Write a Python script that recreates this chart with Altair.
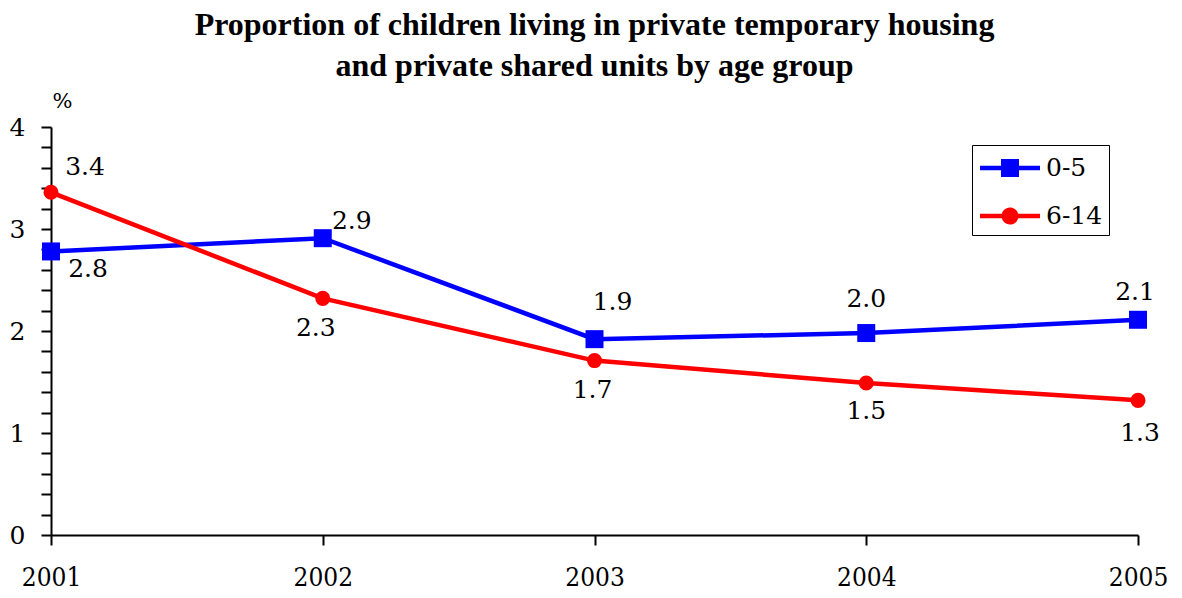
import altair as alt
import pandas as pd

years = [2001, 2002, 2003, 2004, 2005]
series = ["0-5", "6-14"]
age_0_5 = [2.78, 2.91, 1.92, 1.98, 2.11]
age_6_14 = [3.36, 2.32, 1.71, 1.49, 1.32]
y_ticks = [i / 5 for i in range(21)]

df = pd.DataFrame({
    "year": years * 2,
    "series": [series[0]] * 5 + [series[1]] * 5,
    "value": age_0_5 + age_6_14,
})

TITLE_FONT = "Times New Roman"
FONT = "DejaVu Serif"
colors = ["#0000FF", "#FF0000"]

# legend symbols: line segment + marker (custom paths)
leg_square = "M-1.765,-0.132H1.765V0.132H-1.765Z M-0.53,-0.53H0.53V0.53H-0.53Z"
leg_circle = ("M-1.765,-0.132H1.765V0.132H-1.765Z "
              "M0.5,0A0.5,0.5 0 1,1 -0.5,0A0.5,0.5 0 1,1 0.5,0Z")

x_enc = alt.X("year:Q", scale=alt.Scale(domain=[2001, 2005], nice=False),
              axis=alt.Axis(values=years, format="d", title=None, grid=False,
                            labelFontSize=26, labelFont="DejaVu Serif Condensed",
                            labelColor="black",
                            labelPadding=19, tickSize=10, tickWidth=2, tickColor="black",
                            domainColor="black", domainWidth=2, labelFlush=False))
y_enc = alt.Y("value:Q", scale=alt.Scale(domain=[0, 4], nice=False),
              axis=alt.Axis(values=y_ticks, grid=False, title="%", labelOverlap=False,
                            labelExpr="datum.value % 1 == 0 ? format(datum.value, 'd') : ''",
                            labelFontSize=25, labelFont=FONT, labelColor="black",
                            labelPadding=16, tickSize=10, tickWidth=2, tickColor="black",
                            domainColor="black", domainWidth=2,
                            titleAngle=0, titleFont=FONT, titleFontSize=21,
                            titleFontWeight="normal", titleX=11, titleY=-20,
                            titleAlign="center", titleBaseline="alphabetic"))
color_enc = alt.Color("series:N", scale=alt.Scale(domain=series, range=colors), legend=None)

base = alt.Chart(df).encode(x=x_enc, y=y_enc, color=color_enc)

lines = base.mark_line(strokeWidth=4.5)
squares = base.mark_point(shape="square", filled=True, size=324, opacity=1).transform_filter(
    alt.datum.series == series[0])
circles = base.mark_point(shape="circle", filled=True, size=227, opacity=1).transform_filter(
    alt.datum.series == series[1])

legend_def = alt.Legend(title=None, orient="none", legendX=921, legendY=18,
                        labelFont=FONT, labelFontSize=25, labelColor="black",
                        symbolSize=1156, symbolOffset=15, labelOffset=19,
                        rowPadding=18, padding=6, strokeColor="black",
                        fillColor="white", symbolStrokeWidth=0, symbolOpacity=1)
legend_layer = base.mark_point(filled=True, opacity=1, size=1156).encode(
    shape=alt.Shape("series:N", scale=alt.Scale(domain=series, range=[leg_square, leg_circle]),
                    legend=legend_def),
    color=alt.Color("series:N", scale=alt.Scale(domain=series, range=colors), legend=legend_def),
).transform_filter("false")

# label offsets (dx, dy) per point, as placed in the original
offsets = {
    ("0-5", 2001): (37, 18), ("0-5", 2002): (29, -17), ("0-5", 2003): (18, -37),
    ("0-5", 2004): (0, -34), ("0-5", 2005): (-3, -28),
    ("6-14", 2001): (34, -25), ("6-14", 2002): (-7, 30), ("6-14", 2003): (-2, 29),
    ("6-14", 2004): (0, 28), ("6-14", 2005): (2, 33),
}
labels = []
for (s, yr), (dx, dy) in offsets.items():
    labels.append(
        base.mark_text(font=FONT, fontSize=25, color="black", dx=dx, dy=dy,
                       align="center", baseline="middle")
        .encode(text=alt.Text("value:Q", format=".1f"), color=alt.value("black"))
        .transform_filter((alt.datum.series == s) & (alt.datum.year == yr))
    )

chart = alt.layer(lines, squares, circles, legend_layer, *labels).resolve_scale(
    color="independent", shape="independent"
).properties(
    width=1087, height=408, background="white",
    title=alt.TitleParams(["Proportion of children living in private temporary housing",
                           "and private shared units by age group"],
                          font=TITLE_FONT, fontSize=32, fontWeight="bold", color="black",
                          anchor="middle", lineHeight=41, offset=7, frame="group"),
    autosize=alt.AutoSizeParams(type="none"),
    padding={"left": 43, "top": 119, "right": 36, "bottom": 55},
).configure_view(strokeWidth=0)

chart.save("out.html", embed_options={"renderer": "svg", "actions": False})
